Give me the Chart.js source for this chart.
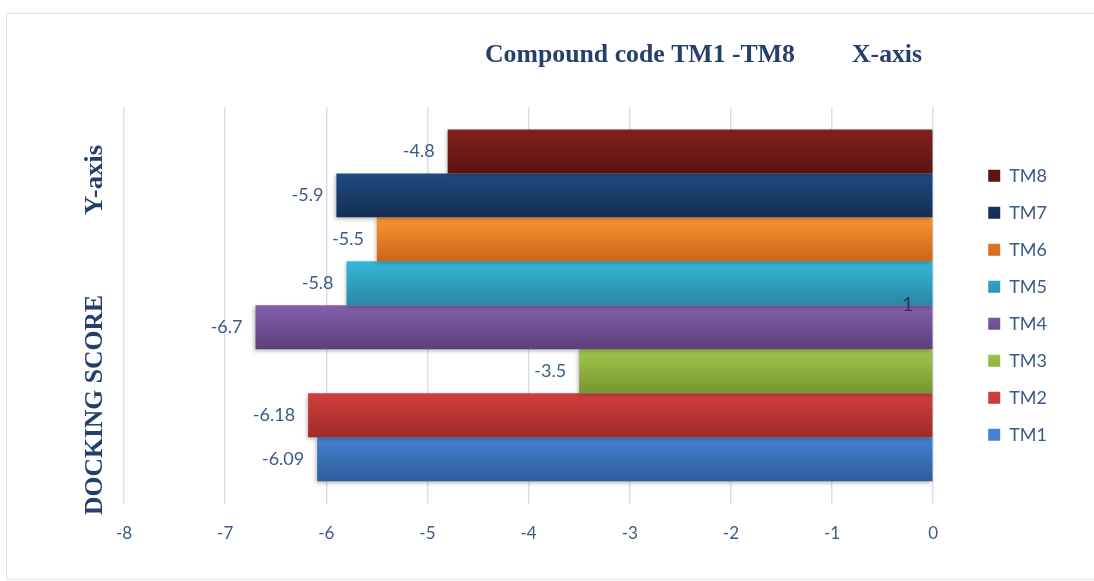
<!DOCTYPE html>
<html>
<head>
<meta charset="utf-8">
<script src="https://cdn.jsdelivr.net/npm/chart.js@4"></script>
<style>
  body { margin: 0; background: #fff; }
  #frame { position: absolute; left: 6px; top: 13px; width: 1100px; height: 565px; border: 1px solid #d7e2f0; }
  #mychart { position: absolute; left: 0; top: 0; }
</style>
</head>
<body>
<div id="frame"></div>
<canvas id="mychart" width="1094" height="581"></canvas>
<script>
const categories = ["1"];
const compounds = ["TM1", "TM2", "TM3", "TM4", "TM5", "TM6", "TM7", "TM8"];
const scores = [-6.09, -6.18, -3.5, -6.7, -5.8, -5.5, -5.9, -4.8];
const midColors = ["#3a72bd", "#bb3634", "#8fb43f", "#70519a", "#31a3c3", "#e57d27", "#1b3d68", "#701a1a"];
const topColors = ["#4483d4", "#d23f3c", "#a0c74c", "#8460ab", "#36b7da", "#fa9432", "#1f4b80", "#81201f"];
const bottomColors = ["#2f5c99", "#9d2b2a", "#76952f", "#5b3f7a", "#2888a3", "#c9661b", "#152e52", "#5c1313"];
const xMin = -8;
const xMax = 0;

const textBlue = "#3b5a88";
const titleBlue = "#243f6b";

// bars listed top to bottom, so TM8 comes first
const datasets = compounds.map((name, i) => ({
  label: name,
  data: [scores[i]],
  backgroundColor: (c) => {
    const el = c.element;
    if (!el || !isFinite(el.y) || !isFinite(el.height)) return midColors[i];
    const top = el.y - el.height / 2;
    const g = c.chart.ctx.createLinearGradient(0, top, 0, top + el.height);
    g.addColorStop(0, topColors[i]);
    g.addColorStop(1, bottomColors[i]);
    return g;
  },
  borderWidth: 0,
})).reverse();

function fitText(ctx, text, x, y, width, font, angle) {
  ctx.save();
  ctx.font = font;
  const w = ctx.measureText(text).width;
  ctx.translate(x, y);
  if (angle) ctx.rotate(angle);
  ctx.scale(width / w, 1);
  ctx.fillText(text, 0, 0);
  ctx.restore();
}

const extras = {
  id: "extras",
  beforeDatasetsDraw(chart) {
    const ctx = chart.ctx;
    ctx.save();
    ctx.shadowColor = "rgba(0,0,0,0.28)";
    ctx.shadowBlur = 4;
    ctx.shadowOffsetX = -1;
    ctx.shadowOffsetY = 2;
  },
  afterDatasetsDraw(chart) {
    const ctx = chart.ctx;
    ctx.restore();
    ctx.save();
    ctx.font = "18px Lato";
    ctx.fillStyle = textBlue;
    ctx.textAlign = "right";
    ctx.textBaseline = "middle";
    chart.data.datasets.forEach((ds, i) => {
      chart.getDatasetMeta(i).data.forEach((bar, j) => {
        ctx.fillText(String(ds.data[j]), bar.x - 13, bar.y);
      });
    });
    ctx.restore();
  },
  afterDraw(chart) {
    const ctx = chart.ctx;
    ctx.save();
    ctx.fillStyle = titleBlue;
    ctx.textAlign = "left";
    ctx.textBaseline = "alphabetic";
    const serif = "bold 26px 'Liberation Serif', 'DejaVu Serif', serif";
    fitText(ctx, "Compound code TM1 -TM8", 485, 62, 310, serif);
    fitText(ctx, "X-axis", 852, 62, 70, serif);
    fitText(ctx, "DOCKING SCORE", 102, 515, 220, serif, -Math.PI / 2);
    fitText(ctx, "Y-axis", 102, 215, 70, serif, -Math.PI / 2);
    ctx.restore();
  },
};

const config = {
  type: "bar",
  data: { labels: categories, datasets: datasets },
  options: {
    indexAxis: "y",
    responsive: false,
    animation: false,
    barPercentage: 1,
    categoryPercentage: 0.887,
    layout: { padding: { top: 107, left: 124, bottom: 17, right: 37 } },
    scales: {
      x: {
        min: xMin,
        max: xMax,
        ticks: { stepSize: 1, color: textBlue, font: { family: "Lato", size: 17 }, padding: 20 },
        grid: { color: "#d5e1f0", lineWidth: 1.5, drawTicks: false },
        border: { display: false },
      },
      y: {
        position: "right",
        z: 1,
        grid: { display: false },
        border: { display: false },
        ticks: { z: 1, mirror: true, padding: -20, color: "#22355e", font: { family: "Lato", size: 19 } },
        afterFit: (scale) => { scale.width = 36; },
      },
    },
    plugins: {
      title: { display: false },
      tooltip: { enabled: false },
      legend: {
        position: "right",
        fullSize: false,
        labels: {
          boxWidth: 12,
          boxHeight: 12,
          padding: 19,
          color: textBlue,
          font: { family: "Lato", size: 18 },
        },
      },
    },
  },
  plugins: [extras],
};

const mychart = new Chart(document.getElementById("mychart"), config);
// second pass so the gradients can read the bar positions
mychart.update();
</script>
</body>
</html>
